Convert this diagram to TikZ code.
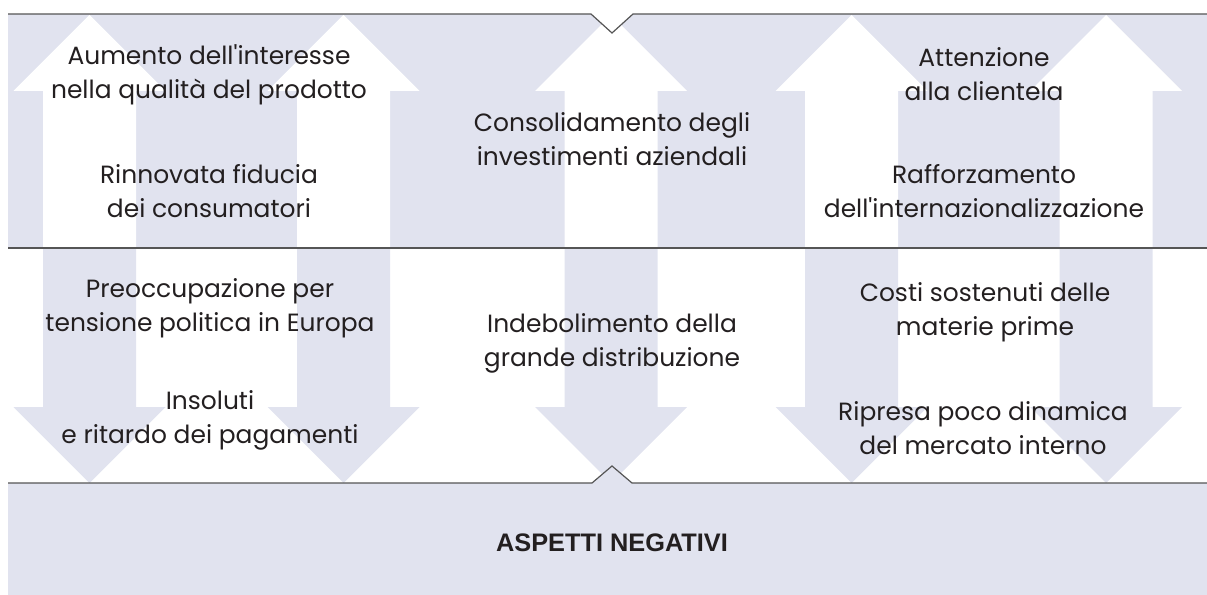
\documentclass[tikz,border=0pt]{standalone}
\usepackage{fontspec}
\setmainfont{Poppins}
\newfontfamily\titfont{Liberation Sans}
\definecolor{lavanda}{HTML}{E1E3EF}
\definecolor{bordo}{HTML}{555555}
\definecolor{testo}{HTML}{231F20}
\tikzset{
  voce/.style={align=center, text=testo, inner sep=0pt,
    font=\fontsize{18.7}{25.5}\selectfont},
  titolo/.style={text=testo, inner sep=0pt,
    font=\titfont\bfseries\fontsize{19}{23}\selectfont},
  filo/.style={draw=bordo, line width=0.9pt},
}

\begin{document}
\begin{tikzpicture}[x=0.75pt,y=-0.75pt]
        \useasboundingbox (0,0) rectangle (1207,595);
        \fill [lavanda] (8,14) rectangle (1207,248);
        \fill [lavanda] (8,483) rectangle (1207,595);
        \foreach \c in {89.5,343.5,611,851.5,1106} {
            \fill [white] (\c-46.5,248) -- (\c-46.5,91) -- (\c-76,91) -- (\c,15)
                -- (\c+76,91) -- (\c+46.5,91) -- (\c+46.5,248) -- cycle;
            \fill [lavanda] (\c-46.5,248) -- (\c-46.5,407) -- (\c-76,407) -- (\c,483)
                -- (\c+76,407) -- (\c+46.5,407) -- (\c+46.5,248) -- cycle;
        }
        \coordinate (T1) at (591,14);
        \coordinate (T2) at (612,33);
        \coordinate (T3) at (633,14);
        \coordinate (B1) at (592,483);
        \coordinate (B2) at (612,466);
        \coordinate (B3) at (632,483);
        \fill [white] (T1) -- (T2) -- (T3) -- (612,0) -- cycle;
        \fill [lavanda] (B1) -- (B2) -- (B3) -- cycle;
        \draw [filo] (8,14) -- (T1) -- (T2) -- (T3) -- (1207,14);
        \draw [filo] (8,248) -- (1207,248);
        \draw [filo] (8,483) -- (B1) -- (B2) -- (B3) -- (1207,483);
        \node [voce] (p1) at (209,74.5) {Aumento dell\textquotesingle interesse\\nella qualità del prodotto};
        \node [voce] (p2) at (209,191) {Rinnovata fiducia\\dei consumatori};
        \node [voce] (p3) at (612,139.5) {Consolidamento degli\\investimenti aziendali};
        \node [voce] (p4) at (984,74) {Attenzione\\alla clientela};
        \node [voce] (p5) at (984,191) {Rafforzamento\\dell\textquotesingle internazionalizzazione};
        \node [voce] (n1) at (210,308) {Preoccupazione per\\tensione politica in Europa};
        \node [voce] (n2) at (210,420) {Insoluti\\e ritardo dei pagamenti};
        \node [voce] (n3) at (612,343.5) {Indebolimento della\\grande distribuzione};
        \node [voce] (n4) at (985,312.5) {Costi sostenuti delle\\materie prime};
        \node [voce] (n5) at (983,428.5) {Ripresa poco dinamica\\del mercato interno};
        \node [titolo] (neg) at (612,543) {ASPETTI NEGATIVI};
        % \node [titolo] (pos) at (612,0) {ASPETTI POSITIVI};
    \end{tikzpicture}
\end{document}
